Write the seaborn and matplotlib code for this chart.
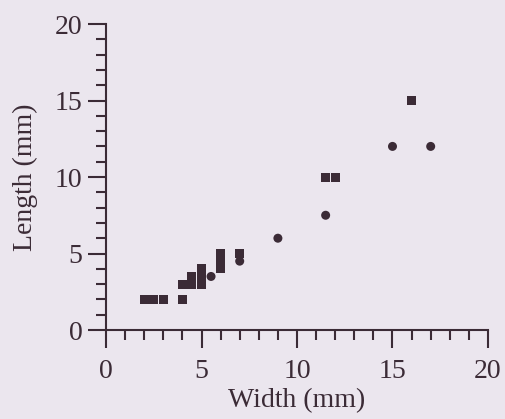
import pandas as pd
import matplotlib
matplotlib.use("Agg")
import matplotlib.pyplot as plt
import seaborn as sns
from matplotlib.ticker import MultipleLocator

# Data
sq_width = [2, 2.5, 3, 4, 4, 4.5, 4.5, 5, 5, 5, 6, 6, 6, 7, 11.5, 12, 16]
sq_length = [2, 2, 2, 2, 3, 3, 3.5, 3, 3.5, 4, 4, 4.5, 5, 5, 10, 10, 15]
ci_width = [5.5, 7, 9, 11.5, 15, 17]
ci_length = [3.5, 4.5, 6, 7.5, 12, 12]

df = pd.DataFrame({
    "Width": sq_width + ci_width,
    "Length": sq_length + ci_length,
    "group": ["square"] * len(sq_width) + ["circle"] * len(ci_width),
})

bg = "#ebe6ee"
ink = "#3b2b36"

sns.set_theme(style="ticks")
plt.rcParams["font.family"] = ["Liberation Serif", "DejaVu Serif"]

fig = plt.figure(figsize=(5.06, 4.19), dpi=100, facecolor=bg)
ax = fig.add_axes([0.2095, 0.2124, 0.7549, 0.7303])
ax.set_facecolor(bg)

sns.scatterplot(data=df, x="Width", y="Length", style="group",
                markers={"square": "s", "circle": "o"}, color=ink,
                s=42, linewidth=0, legend=False, ax=ax)

ax.set_xlim(0, 20)
ax.set_ylim(0, 20)
ax.xaxis.set_major_locator(MultipleLocator(5))
ax.xaxis.set_minor_locator(MultipleLocator(1))
ax.yaxis.set_major_locator(MultipleLocator(5))
ax.yaxis.set_minor_locator(MultipleLocator(1))

sns.despine(ax=ax)
for side in ["left", "bottom"]:
    ax.spines[side].set_color(ink)
    ax.spines[side].set_linewidth(1.5)
    ax.spines[side].set_clip_on(False)

ax.tick_params(which="major", length=13, width=1.5, color=ink,
               labelsize=20, labelcolor=ink)
ax.tick_params(which="minor", length=7.5, width=1.5, color=ink)
ax.tick_params(axis="x", which="major", pad=8)
ax.tick_params(axis="y", which="major", pad=4)

ax.set_xlabel("Width (mm)", fontsize=20, color=ink, labelpad=3)
ax.set_ylabel("Length (mm)", fontsize=20, color=ink, labelpad=12)

fig.savefig("out.png", dpi=100, facecolor=bg)
